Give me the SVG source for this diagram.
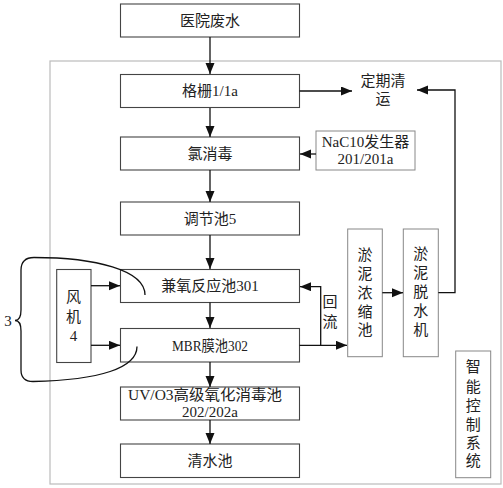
<svg xmlns="http://www.w3.org/2000/svg" width="503" height="488" viewBox="0 0 503 488">
<defs>
<marker id="ah" markerUnits="userSpaceOnUse" markerWidth="12" markerHeight="10" refX="11" refY="4.5" orient="auto">
<path d="M0,0 L11,4.5 L0,9 z" fill="#111"/>
</marker>
<style>
.box{fill:#fff;stroke:#444;stroke-width:1.1}
.gbox{fill:#fff;stroke:#888;stroke-width:1}
.frame{fill:none;stroke:#bbb;stroke-width:1.2}
.t{font-family:"Liberation Serif","Noto Sans CJK SC",serif;font-size:15px;fill:#222;text-anchor:middle;dominant-baseline:central}
.ln{fill:none;stroke:#111;stroke-width:1.3}
.arr{fill:none;stroke:#111;stroke-width:1.3;marker-end:url(#ah)}
</style>
</defs>
<rect id="frame" class="frame" x="50" y="61" width="451" height="423"/>

<g id="n-yiyuan"><rect class="box" x="120.5" y="4" width="179" height="33"/><text class="t" x="210" y="20.5">医院废水</text></g>
<g id="n-gezha"><rect class="box" x="120.5" y="74.5" width="179" height="33"/><text class="t" x="210" y="91">格栅1/1a</text></g>
<g id="n-dingqi"><text class="t" x="383" y="81">定期清</text><text class="t" x="383" y="99">运</text></g>
<g id="n-lv"><rect class="box" x="120.5" y="137" width="179" height="33"/><text class="t" x="210" y="153.5">氯消毒</text></g>
<g id="n-naclo"><rect class="gbox" x="316" y="131" width="99" height="39"/><text class="t" x="365.5" y="141.5">NaC10发生器</text><text class="t" x="365.5" y="159">201/201a</text></g>
<g id="n-tiaojie"><rect class="box" x="120.5" y="202" width="179" height="33"/><text class="t" x="210" y="218.5">调节池5</text></g>
<g id="n-jianyang"><rect class="box" x="120.5" y="269.5" width="179" height="33"/><text class="t" x="210" y="286">兼氧反应池301</text></g>
<g id="n-fengji"><rect class="box" x="56.7" y="269.5" width="34.3" height="93"/><text class="t" x="73.5" y="297">风</text><text class="t" x="73.5" y="317">机</text><text class="t" x="73.5" y="336">4</text></g>
<g id="n-mbr"><rect class="box" x="120.5" y="328.5" width="179" height="33.5"/><text class="t" x="210" y="345.5" textLength="76" lengthAdjust="spacingAndGlyphs">MBR膜池302</text></g>
<g id="n-uv"><rect class="box" x="120.5" y="387" width="179" height="33"/><text class="t" x="205" y="395" textLength="154" lengthAdjust="spacingAndGlyphs">UV/O3高级氧化消毒池</text><text class="t" x="210" y="412">202/202a</text></g>
<g id="n-qingshui"><rect class="box" x="120.5" y="444" width="179" height="33.5"/><text class="t" x="210" y="461">清水池</text></g>
<g id="n-nongsuo"><rect class="gbox" x="347.7" y="229" width="34.6" height="127.7"/><text class="t" x="365" y="255">淤</text><text class="t" x="365" y="273.5">泥</text><text class="t" x="365" y="292.5">浓</text><text class="t" x="365" y="311.5">缩</text><text class="t" x="365" y="330">池</text></g>
<g id="n-tuoshui"><rect class="gbox" x="403.3" y="229" width="35" height="127.7"/><text class="t" x="420.8" y="254">淤</text><text class="t" x="420.8" y="273">泥</text><text class="t" x="420.8" y="292">脱</text><text class="t" x="420.8" y="311">水</text><text class="t" x="420.8" y="329.5">机</text></g>
<g id="n-zhineng"><rect class="gbox" x="455.7" y="351" width="35" height="126.7"/><text class="t" x="473.3" y="366.5">智</text><text class="t" x="473.3" y="386.5">能</text><text class="t" x="473.3" y="406">控</text><text class="t" x="473.3" y="425">制</text><text class="t" x="473.3" y="443">系</text><text class="t" x="473.3" y="461">统</text></g>
<g id="n-huiliu"><text class="t" x="330" y="302">回</text><text class="t" x="330" y="322">流</text></g>
<g id="n-3">
<path class="ln" d="M34,257.5 Q21,257.5 21,270 L21,310 Q21,320.5 15,320.5 Q21,320.5 21,331 L21,370 Q21,381.5 33,381.5"/>
<path class="ln" d="M34,257.5 C95,257.5 145,270 145,295"/>
<path class="ln" d="M33,381.5 C100,380 137,368 137,346.5"/>
<text class="t" x="8" y="321">3</text>
</g>

<g id="connectors">
<path class="arr" d="M210,37 V74"/>
<path class="arr" d="M210,108 V137"/>
<path class="arr" d="M210,170 V202"/>
<path class="arr" d="M210,235 V269"/>
<path class="arr" d="M210,302.5 V328"/>
<path class="arr" d="M210,362 V387"/>
<path class="arr" d="M210,420 V444"/>
<path class="arr" d="M299.5,91 H352"/>
<path class="arr" d="M438.3,292.7 H455 V90 H417"/>
<path class="arr" d="M316,154 H300"/>
<path class="arr" d="M91,285.7 H120"/>
<path class="arr" d="M91,345.3 H120"/>
<path class="arr" d="M299.5,345.3 H347"/>
<path class="arr" d="M320.7,345.3 V286.7 H300"/>
<path class="arr" d="M382.3,292.7 H403"/>
</g>
</svg>
